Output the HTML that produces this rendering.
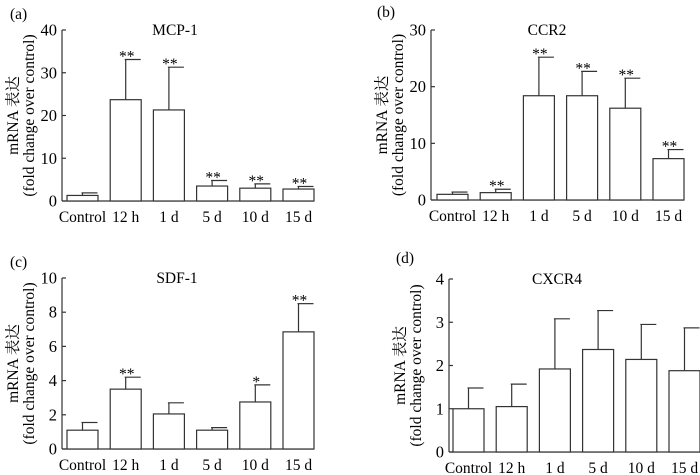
<!DOCTYPE html>
<html><head><meta charset="utf-8"><style>
body{margin:0;background:#fff}
svg{display:block;font-family:"Liberation Serif","Noto Serif CJK SC",serif}
</style></head><body>
<svg id="fig" width="700" height="475" viewBox="0 0 700 475"></svg>
<script>
const categories=["Control","12 h","1 d","5 d","10 d","15 d"];
const mcpValues=[1.3,23.7,21.3,3.5,3.0,2.8];
const mcpErrors=[0.6,9.4,10.0,1.3,1.0,0.6];
const mcpStars=["","**","**","**","**","**"];
const ccrValues=[1.0,1.3,18.4,18.4,16.2,7.3];
const ccrErrors=[0.4,0.6,6.8,4.3,5.3,1.6];
const ccrStars=["","**","**","**","**","**"];
const sdfValues=[1.1,3.5,2.05,1.1,2.75,6.85];
const sdfErrors=[0.45,0.7,0.65,0.15,1.0,1.65];
const sdfStars=["","**","","","*","**"];
const cxcrValues=[1.0,1.05,1.92,2.37,2.14,1.88];
const cxcrErrors=[0.48,0.52,1.16,0.9,0.81,0.99];
const cxcrStars=["","","","","",""];
const mcpTicks=[0,10,20,30,40];
const ccrTicks=[0,10,20,30];
const sdfTicks=[0,2,4,6,8,10];
const cxcrTicks=[0,1,2,3,4];

const NS="http://www.w3.org/2000/svg";
const svg=document.getElementById("fig");
const FS=15.5;
function mk(tag,attrs,parent,text){const e=document.createElementNS(NS,tag);for(const k in attrs)e.setAttribute(k,attrs[k]);if(text!==undefined)e.textContent=text;(parent||svg).appendChild(e);return e;}

function panel(key,letter,title,ax,y0,yTop,firstBar,ticks,vals,errs,stars,lx,ly,titleX){
  const g=mk("g",{});
  
  
  const maxT=ticks[ticks.length-1];
  const ys=v=>y0-(v/maxT)*(y0-yTop);
  const step=43.2,bw=31;
  const xs=i=>firstBar+i*step;
  const lab=mk("text",{x:lx,y:ly,"font-size":FS},g,"("+letter+")");
  
  
  const t=mk("text",{x:titleX,y:yTop+5,"font-size":FS,"text-anchor":"middle"},g,title);
  
  
  const axis=mk("line",{x1:ax,y1:yTop,x2:ax,y2:y0,stroke:"#333","stroke-width":1.2},g);
  
  
  const base=mk("line",{x1:ax,y1:y0,x2:xs(5)+bw,y2:y0,stroke:"#333","stroke-width":1.2},g);
  
  
  ticks.forEach(v=>{
    const y=ys(v);
    mk("line",{x1:ax,y1:y,x2:ax+4,y2:y,stroke:"#333","stroke-width":1.2},g);
    const tl=mk("text",{x:ax-5,y:y+5.5,"font-size":FS+1,"text-anchor":"end"},g,String(v));
    
    
  });
  const cy=(y0+yTop)/2;
  const a1=mk("text",{x:ax-44,y:cy,"font-size":FS,"text-anchor":"middle",transform:`rotate(-90 ${ax-44} ${cy})`},g,"mRNA 表达");
  
  
  const a2=mk("text",{x:ax-28,y:cy,"font-size":FS,"text-anchor":"middle",transform:`rotate(-90 ${ax-28} ${cy})`},g,"(fold change over control)");
  
  
  categories.forEach((c,i)=>{
    const x=xs(i),yt=ys(vals[i]),ye=ys(vals[i]+errs[i]),cx=x+bw/2;
    const el=mk("line",{x1:cx,y1:yt,x2:cx,y2:ye,stroke:"#333","stroke-width":1.2},g);
    
    
    mk("line",{x1:cx-1,y1:ye,x2:cx+15,y2:ye,stroke:"#333","stroke-width":1.2},g);
    const r=mk("rect",{x:x,y:yt,width:bw,height:y0-yt,fill:"#fff",stroke:"#333","stroke-width":1.2},g);
    
    
    if(stars[i]){
      const s=mk("text",{x:cx+1,y:ye+2,"font-size":FS,"text-anchor":"middle"},g,stars[i]);
      
      
    }
    const xl=mk("text",{x:cx,y:y0+21,"font-size":FS,"text-anchor":"middle"},g,c);
    
    
  });
}
panel("mcp1","a","MCP-1",62,201,30,67,mcpTicks,mcpValues,mcpErrors,mcpStars,10,19,175);
panel("ccr2","b","CCR2",431,200,30,437,ccrTicks,ccrValues,ccrErrors,ccrStars,377,17,547);
panel("sdf1","c","SDF-1",62,449,278,67,sdfTicks,sdfValues,sdfErrors,sdfStars,10,267,177);
panel("cxcr4","d","CXCR4",449,452,279,453,cxcrTicks,cxcrValues,cxcrErrors,cxcrStars,396,263,557);
</script>
</body></html>
